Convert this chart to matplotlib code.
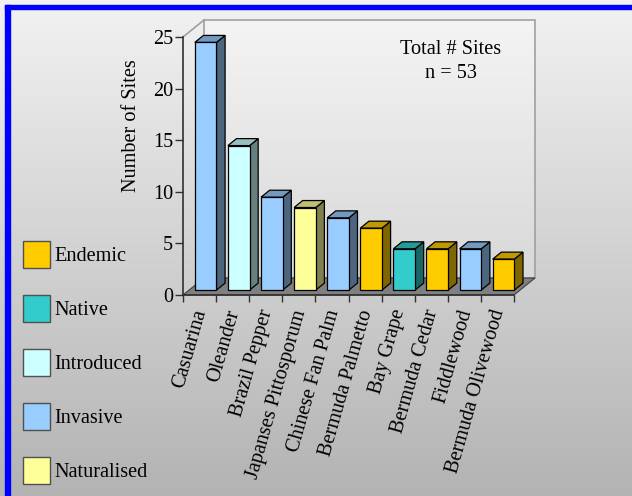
import matplotlib
matplotlib.use('Agg')
import matplotlib.pyplot as plt
import numpy as np
from matplotlib.patches import Polygon, Rectangle, Patch
from matplotlib.colors import LinearSegmentedColormap, to_rgb
import matplotlib.transforms as mtransforms

# ---- data ----
species = ['Casuarina', 'Oleander', 'Brazil Pepper', 'Japanses Pittosporum',
           'Chinese Fan Palm', 'Bermuda Palmetto', 'Bay Grape', 'Bermuda Cedar',
           'Fiddlewood', 'Bermuda Olivewood']
sites = [24, 14, 9, 8, 7, 6, 4, 4, 4, 3]
status = ['Invasive', 'Introduced', 'Invasive', 'Naturalised', 'Invasive',
          'Endemic', 'Native', 'Endemic', 'Invasive', 'Endemic']
status_order = ['Endemic', 'Native', 'Introduced', 'Invasive', 'Naturalised']
y_ticks = [0, 5, 10, 15, 20, 25]
total_sites = 53

# ---- style ----
face = {'Endemic': '#FFCC00', 'Native': '#33CCCC', 'Introduced': '#CCFFFF',
        'Invasive': '#99CCFF', 'Naturalised': '#FFFF99'}
plt.rcParams['font.family'] = ['Liberation Serif', 'DejaVu Serif']
FS = 14.6
FS_PX = FS * 100 / 72

W, H = 632, 496
fig = plt.figure(figsize=(W / 100, H / 100), dpi=100)

# figure background gradient
bg = fig.add_axes([0, 0, 1, 1], zorder=-10)
bg_cmap = LinearSegmentedColormap.from_list('bg', ['#b3b3b3', '#f2f2f2'])
bg.imshow(np.linspace(0, 1, 256).reshape(-1, 1)[::-1], cmap=bg_cmap,
          extent=[0, 1, 0, 1], aspect='auto')
bg.axis('off')

# blue frame on top and left
fig.patches.append(Rectangle((5 / W, 1 - 9 / H), 1 - 5 / W, 4 / H,
                             transform=fig.transFigure, color='#0000FF', zorder=5))
fig.patches.append(Rectangle((5 / W, 0), 5 / W, 1 - 5 / H,
                             transform=fig.transFigure, color='#0000FF', zorder=5))

# main (front plane) axes
ax = fig.add_axes([183 / W, (H - 295) / H, 331 / W, 258 / H])
ax.patch.set_visible(False)
n = len(species)
ymax = y_ticks[-1]
ax.set_xlim(0, n)
ax.set_ylim(0, ymax)
ax.set_autoscale_on(False)

# depth of the 3D box in data units (x: slots, y: values)
dep_x = 21 / (331 / n)
dep_y = 17 / (258 / ymax)

# back wall
wall_cmap = LinearSegmentedColormap.from_list('wall', ['#d8d8d8', '#f4f4f4'])
ax.imshow(np.linspace(0, 1, 256).reshape(-1, 1)[::-1], cmap=wall_cmap,
          extent=[dep_x, n + dep_x, dep_y, ymax + dep_y], aspect='auto',
          clip_on=False, zorder=0)
ax.add_patch(Rectangle((dep_x, dep_y), n, ymax, fill=False, ec='#a0a0a0',
                       lw=1.2, clip_on=False, zorder=0.5))
# left wall top edge
ax.plot([0, dep_x], [ymax, ymax + dep_y], color='#a0a0a0', lw=1.2,
        clip_on=False, zorder=0.5)
# floor
ax.add_patch(Polygon([(0, 0), (n, 0), (n + dep_x, dep_y), (dep_x, dep_y)],
                     closed=True, fc='#808080', ec='#404040', lw=0.8,
                     clip_on=False, zorder=1))

# 3D bars
bw = 0.655
f0, f1 = 0.29, 0.70
for i, (v, s) in enumerate(zip(sites, status)):
    c = np.array(to_rgb(face[s]))
    x0 = i + 0.5 - bw / 2 + f0 * dep_x
    y0 = f0 * dep_y
    ddx = (f1 - f0) * dep_x
    ddy = (f1 - f0) * dep_y
    front = Rectangle((x0, y0), bw, v, fc=c, ec='black', lw=0.9,
                      clip_on=False, zorder=3)
    top = Polygon([(x0, y0 + v), (x0 + bw, y0 + v), (x0 + bw + ddx, y0 + v + ddy),
                   (x0 + ddx, y0 + v + ddy)], closed=True, fc=c * 0.75,
                  ec='black', lw=0.9, clip_on=False, zorder=3)
    side = Polygon([(x0 + bw, y0), (x0 + bw + ddx, y0 + ddy),
                    (x0 + bw + ddx, y0 + v + ddy), (x0 + bw, y0 + v)],
                   closed=True, fc=c * 0.5, ec='black', lw=0.9,
                   clip_on=False, zorder=3)
    for p in (side, top, front):
        ax.add_patch(p)

# axes lines and ticks
for sp in ('top', 'right'):
    ax.spines[sp].set_visible(False)
for sp in ('left', 'bottom'):
    ax.spines[sp].set_color('#303030')
    ax.spines[sp].set_linewidth(1.2)
    ax.spines[sp].set_zorder(4)
ax.set_yticks(y_ticks)
ax.set_yticklabels([str(t) for t in y_ticks], fontsize=FS)
ax.tick_params(axis='y', length=6, width=1, color='#303030', pad=1)
ax.set_xticks(np.arange(n + 1))
ax.set_xticklabels([])
ax.tick_params(axis='x', length=5, width=1, color='#303030')

# rotated category labels
off = mtransforms.ScaledTranslation(2 / 100, -15 / 100, fig.dpi_scale_trans)
for i, name in enumerate(species):
    ax.text(i + 0.5, 0, name, transform=ax.get_xaxis_transform() + off,
            rotation=74, rotation_mode='anchor', ha='right', va='center',
            fontsize=FS)

ax.set_ylabel('Number of Sites', fontsize=FS, va='center')
ax.yaxis.set_label_coords((131 - 183) / 331, (295 - 126) / 258)

ax.text((451 - 183) / 331, (295 - 61.5) / 258,
        'Total # Sites\nn = %d' % total_sites, transform=ax.transAxes,
        ha='center', va='center', fontsize=FS, linespacing=1.35)

# legend: 27 px swatches, 54 px row pitch
sw = 27 / FS_PX
handles = [Patch(fc=face[s], ec='#505050', lw=1) for s in status_order]
fig.legend(handles, status_order, loc='upper left',
           bbox_to_anchor=(23 / W, 1 - 241 / H), frameon=False,
           borderaxespad=0, borderpad=0, handlelength=sw,
           handleheight=(sw - 0.245) / 0.65,
           handletextpad=4.5 / FS_PX, labelspacing=sw, fontsize=FS)

fig.savefig('out.png', dpi=100)
